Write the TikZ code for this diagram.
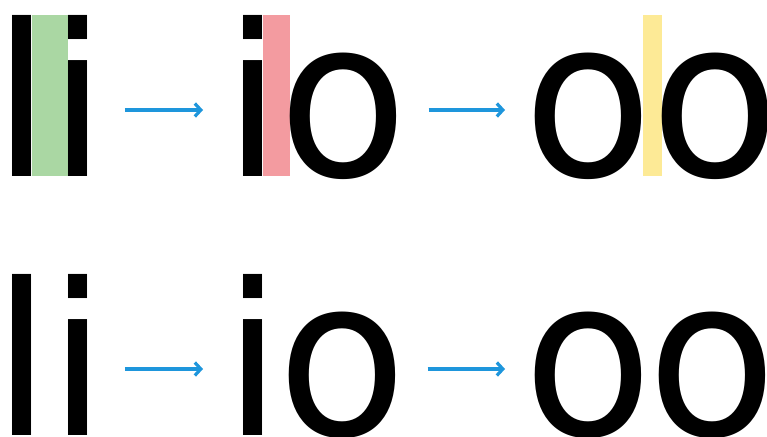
\documentclass[tikz,border=0pt]{standalone}
\usepackage{fontspec}
\usepackage{xcolor}
\usepackage{tikz}
\usetikzlibrary{arrows.meta}
\usetikzlibrary{positioning}
\newfontfamily\glyphfont{DejaVu Sans}
\definecolor{arrowblue}{RGB}{30,150,220}
\definecolor{bandgreen}{RGB}{170,215,163}
\definecolor{bandred}{RGB}{243,155,160}
\definecolor{bandyellow}{RGB}{253,234,150}
\tikzstyle{glyph} = [inner sep=0pt, outer sep=0pt, anchor=base west,
font=\glyphfont\fontsize{212pt}{212pt}\selectfont]
\tikzstyle{oglyph} = [glyph, yscale=1.04, transform shape]
\tikzstyle{shiftarrow} = [draw=arrowblue, line width=3.2pt,
-{Straight Barb[length=6pt,width=13pt]}]

\begin{document}
\begin{tikzpicture}[x=1pt, y=-1pt]
		\useasboundingbox (0,0) rectangle (767,436);
		\fill [white] (0,0) rectangle (767,436);
		%% Bands
		\fill [bandgreen] (32,15) rectangle (68,176);
		\fill [bandred] (263,15) rectangle (290,176);
		\fill [bandyellow] (643,15) rectangle (662,176);
		%% Top row
		\node [glyph] (t1l) at (-7,176) {l};
		\node [glyph] (t1i) at (48,176) {i};
		\node [glyph] (t2i) at (223,176) {i};
		\node [oglyph] (t2o) at (278,176) {o};
		\node [oglyph] (t3o) at (523,176) {o};
		\node [oglyph] (t3oo) at (650,176) {o};
		%% Bottom row
		\node [glyph] (b1l) at (-7,435) {l};
		\node [glyph] (b1i) at (48,435) {i};
		\node [glyph] (b2i) at (223,435) {i};
		\node [oglyph] (b2o) at (277,435) {o};
		\node [oglyph] (b3o) at (523,435) {o};
		\node [oglyph] (b3oo) at (647,435) {o};
		%% Links
		\path [shiftarrow] ([xshift=18pt,yshift=66pt]t1i.base east) to ([xshift=-20pt,yshift=66pt]t2i.base west);
		\path [shiftarrow] ([xshift=21pt,yshift=66pt]t2o.base east) to ([xshift=-18pt,yshift=66pt]t3o.base west);
		\path [shiftarrow] ([xshift=18pt,yshift=66pt]b1i.base east) to ([xshift=-20pt,yshift=66pt]b2i.base west);
		\path [shiftarrow] ([xshift=21pt,yshift=66pt]b2o.base east) to ([xshift=-18pt,yshift=66pt]b3o.base west);
\end{tikzpicture}
\end{document}
